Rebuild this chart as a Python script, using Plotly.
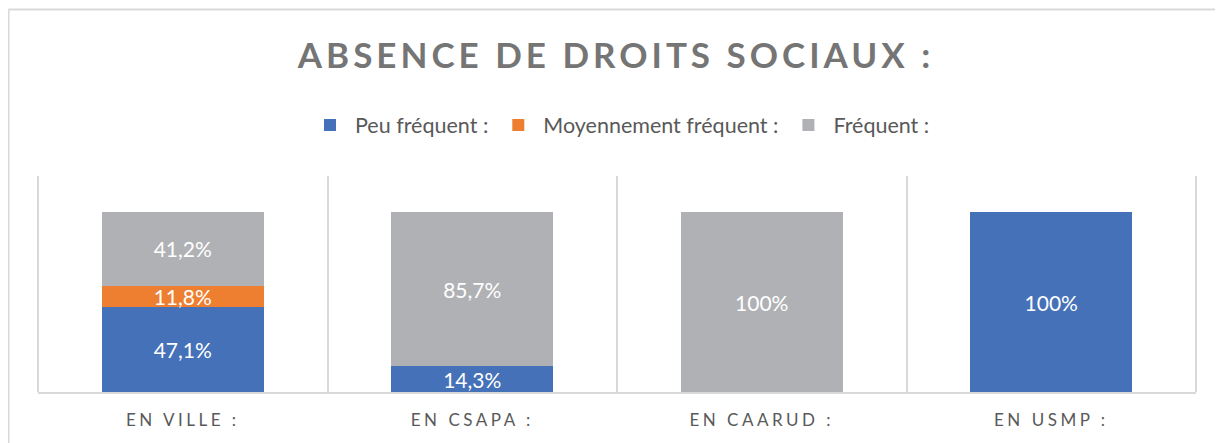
import plotly.graph_objects as go

# données (en %)
categories = ["EN VILLE :", "EN CSAPA :", "EN CAARUD :", "EN USMP :"]
peu_frequent = [47.1, 14.3, 0, 100]
moyen_frequent = [11.8, 0, 0, 0]
frequent = [41.2, 85.7, 100, 0]

series_names = ["Peu fréquent :", "Moyennement fréquent :", "Fréquent :"]
series_colors = ["#4571B8", "#EE7E30", "#B0B1B4"]

FONT = "Lato, 'Open Sans', sans-serif"


def fmt(v):
    """Excel-style labels: comma decimal, nothing for empty segments."""
    if v == 0:
        return ""
    if float(v).is_integer():
        return f"{int(v)}%"
    return f"{v:.1f}".replace(".", ",") + "%"


fig = go.Figure()
for name, vals, color in zip(series_names, [peu_frequent, moyen_frequent, frequent], series_colors):
    fig.add_trace(go.Bar(
        x=categories,
        y=vals,
        name=name,
        marker=dict(color=color, line=dict(width=0)),
        text=[fmt(v) for v in vals],
        textposition="inside",
        insidetextanchor="middle",
        textangle=0,
        textfont=dict(family=FONT, size=21, color="white"),
        hoverinfo="skip",
    ))

# the page body has an 8px margin, so the figure sits 8px right/down;
# keep it inside the 1223x443 window
fig.update_layout(
    width=1215,
    height=435,
    barmode="stack",
    bargap=0.44,
    plot_bgcolor="white",
    paper_bgcolor="white",
    margin=dict(l=30, r=27, t=168, b=51),
    title=dict(
        text="<b>ABSENCE DE DROITS SOCIAUX :</b>",
        x=(616 - 8) / 1215, xanchor="center",
        y=1 - 48 / 435, yanchor="middle",
        font=dict(family=FONT, size=35, color="#757575"),
    ),
    legend=dict(
        orientation="h",
        x=(620 - 38) / 1158, xanchor="center",
        y=(392 - 125) / 216, yanchor="middle",
        font=dict(family=FONT, size=21.5, color="#595959"),
        itemwidth=40,
        traceorder="normal",
    ),
    uniformtext=dict(minsize=21, mode="show"),
    showlegend=True,
)

fig.update_xaxes(
    type="category",
    tickson="boundaries",
    showgrid=True,
    gridcolor="#D9D9D9",
    gridwidth=2,
    showline=True,
    linecolor="#D9D9D9",
    linewidth=2,
    ticks="",
    ticklabelstandoff=12,
    tickfont=dict(family=FONT, size=17, color="#595959"),
)
fig.update_yaxes(range=[0, 120], visible=False, showgrid=False)

# lignes verticales aux bords gauche et droit de la zone de tracé
for xp in (0, 1):
    fig.add_shape(type="line", xref="paper", yref="paper",
                  x0=xp, x1=xp, y0=0, y1=1,
                  line=dict(color="#D9D9D9", width=2), layer="below")

# cadre du graphique : seuls les bords gauche et haut sont visibles
fig.add_shape(type="line", xref="paper", yref="paper",
              x0=(8.5 - 38) / 1158, x1=(8.5 - 38) / 1158,
              y0=-1, y1=(392 - 9.5) / 216,
              line=dict(color="#D9D9D9", width=2), layer="below")
fig.add_shape(type="line", xref="paper", yref="paper",
              x0=(8.5 - 38) / 1158, x1=1.5,
              y0=(392 - 9.5) / 216, y1=(392 - 9.5) / 216,
              line=dict(color="#D9D9D9", width=2), layer="below")

# espacement des lettres du titre et des étiquettes d'axe, comme dans l'original
post = """
var gd = document.getElementById('{plot_id}');
gd.querySelectorAll('.gtitle').forEach(function(e){ e.style.letterSpacing = '4px'; });
gd.querySelectorAll('.xtick text').forEach(function(e){ e.style.letterSpacing = '3.5px'; });
"""

fig.write_html("out.html", post_script=post)
